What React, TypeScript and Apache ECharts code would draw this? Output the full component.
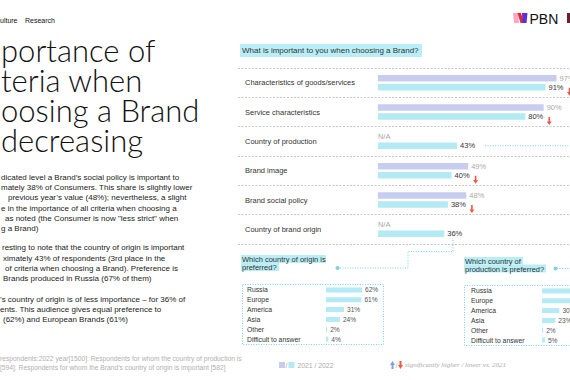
import React, { useEffect, useRef } from 'react';
import * as echarts from 'echarts';

// ---------- data ----------
const criteria = [
  'Characteristics of goods/services',
  'Service characteristics',
  'Country of production',
  'Brand image',
  'Brand social policy',
  'Country of brand origin',
];
const values2021: (number | null)[] = [97, 90, null, 49, 48, null];
const values2022 = [91, 80, 43, 40, 38, 36];
const lowerVs2021 = [true, true, false, true, true, false];

const answerCats = ['Russia', 'Europe', 'America', 'Asia', 'Other', 'Difficult to answer'];
const originValues = [62, 61, 31, 24, 2, 4];
const productionValues = [67, 58, 30, 23, 2, 5];

const titleLines = ['portance of', 'teria when', 'oosing a Brand', 'decreasing'];
const bodyLines = [
  'dicated level a Brand\u2019s social policy is important to',
  'mately 38% of Consumers. This share is slightly lower',
  'previous year\u2019s value (48%); nevertheless, a slight',
  'e in the importance of all criteria when choosing a',
  'as noted (the Consumer is now "less strict" when',
  'g a Brand)',
  'resting to note that the country of origin is important',
  'ximately 43% of respondents (3rd place in the',
  'of criteria when choosing a Brand). Preference is',
  'Brands produced in Russia (67% of them)',
  '\u2019s country of origin is of less importance \u2013 for 36% of',
  'ents. This audience gives equal preference to',
  '(62%) and European Brands (61%)',
];
const footLines = [
  'respondents:2022 year[1500]: Respondents for whom the country of production is',
  '[594]; Respondents for whom the Brand\u2019s country of origin is important [582]',
];

// ---------- layout (positions only) ----------
const bodyPos: [number, number][] = [
  [1, 177], [1, 187.5], [8, 197.8], [1, 208], [5, 218.5], [1, 228],
  [2, 247.8], [3, 258], [5, 268], [3, 278],
  [0, 299], [0, 309], [3, 319],
];

const SANS = "'Liberation Sans', Arial, sans-serif";
const LAV = '#c8cdf0';
const CYAN = '#b3eaf4';
const DOT = '#7fd2df';
const RED = '#ee5a44';
const BLUE = '#7f9fe0';
const ARROW_DOWN = 'path://M2,0 L4,0 L4,5 L6,5 L3,9 L0,5 L2,5 Z';

export default function App() {
  const ref = useRef<HTMLDivElement>(null);

  useEffect(() => {
    if (!ref.current) return;
    const chart = echarts.init(ref.current, null, { renderer: 'svg', width: 570, height: 380 });

    const d2021 = values2021.map((v) =>
      v == null ? { value: 0, na: true, label: { distance: 0 } } : { value: v, na: false }
    );

    const arrows = values2022
      .map((v, i) => ({ v, i }))
      .filter((o) => lowerVs2021[o.i])
      .map((o) => ({
        coord: [o.v, o.i],
        symbol: ARROW_DOWN,
        symbolSize: [5, 8],
        symbolOffset: [24, 4.5],
        itemStyle: { color: RED },
        label: { show: false },
      }));

    const graphic: any[] = [];
    // header
    graphic.push({ type: 'text', x: 0, y: 20, style: { text: 'ulture', fontSize: 7, fontFamily: SANS, fill: '#111', verticalAlign: 'middle' } });
    graphic.push({ type: 'text', x: 25, y: 20, style: { text: 'Research', fontSize: 7, fontFamily: SANS, fill: '#111', verticalAlign: 'middle' } });
    // title (one block, 4 lines)
    graphic.push({
      type: 'text', x: 1, y: 35.6,
      style: {
        text: titleLines.join('\n'), fontSize: 31, lineHeight: 29.7,
        fontFamily: "Lato, 'Liberation Sans', sans-serif",
        fontWeight: 300, fill: '#111', verticalAlign: 'top',
      },
    });
    bodyLines.forEach((t, i) =>
      graphic.push({
        type: 'text', x: bodyPos[i][0], y: bodyPos[i][1],
        style: { text: t, fontSize: 8, fontFamily: SANS, fill: '#222', verticalAlign: 'middle' },
      })
    );
    footLines.forEach((t, i) =>
      graphic.push({
        type: 'text', x: 0, y: 358 + i * 9,
        style: { text: t, fontSize: 6.7, fontFamily: SANS, fill: '#b0b0b0', verticalAlign: 'middle' },
      })
    );
    // question
    graphic.push({ type: 'rect', shape: { x: 240, y: 44, width: 182, height: 13 }, style: { fill: '#b9eef7' } });
    graphic.push({ type: 'text', x: 242, y: 50.5, style: { text: 'What is important to you when choosing a Brand?', fontSize: 8, fontFamily: SANS, fill: '#333', verticalAlign: 'middle' } });
    // connector from "Country of production"
    graphic.push({ type: 'line', shape: { x1: 485, y1: 145.7, x2: 575, y2: 145.7 }, style: { stroke: DOT, lineWidth: 1, lineDash: [1, 1.5] } });
    // connector from "Country of brand origin"
    graphic.push({ type: 'polyline', shape: { points: [[453, 240], [453, 251.5], [408, 251.5], [408, 268], [339, 268]] }, style: { stroke: DOT, lineWidth: 1, lineDash: [1, 1.5], fill: 'none' } });
    graphic.push({ type: 'circle', shape: { cx: 337.5, cy: 268, r: 2 }, style: { fill: DOT } });
    graphic.push({ type: 'line', shape: { x1: 557, y1: 268.5, x2: 575, y2: 268.5 }, style: { stroke: DOT, lineWidth: 1, lineDash: [1, 1.5] } });
    graphic.push({ type: 'circle', shape: { cx: 555.5, cy: 268.5, r: 2 }, style: { fill: DOT } });
    // sub questions
    graphic.push({ type: 'rect', shape: { x: 241, y: 255, width: 85, height: 8 }, style: { fill: '#b9eef7' } });
    graphic.push({ type: 'rect', shape: { x: 241, y: 263, width: 38, height: 8 }, style: { fill: '#b9eef7' } });
    graphic.push({ type: 'text', x: 242, y: 255.3, style: { text: 'Which country of origin is\npreferred?', fontSize: 7.5, lineHeight: 8, fontFamily: SANS, fill: '#333', verticalAlign: 'top' } });
    graphic.push({ type: 'rect', shape: { x: 464, y: 257, width: 59, height: 7.5 }, style: { fill: '#b9eef7' } });
    graphic.push({ type: 'rect', shape: { x: 464, y: 264.5, width: 82, height: 8 }, style: { fill: '#b9eef7' } });
    graphic.push({ type: 'text', x: 465, y: 257, style: { text: 'Which country of\nproduction is preferred?', fontSize: 7.5, lineHeight: 8, fontFamily: SANS, fill: '#333', verticalAlign: 'top' } });
    // boxes
    graphic.push({ type: 'rect', shape: { x: 242.5, y: 284.5, width: 141, height: 60 }, style: { fill: 'none', stroke: DOT, lineWidth: 1, lineDash: [1, 1.5] } });
    graphic.push({ type: 'rect', shape: { x: 464.5, y: 285.5, width: 120, height: 60 }, style: { fill: 'none', stroke: DOT, lineWidth: 1, lineDash: [1, 1.5] } });
    // legend
    graphic.push({ type: 'rect', shape: { x: 279, y: 362, width: 6, height: 6 }, style: { fill: LAV } });
    graphic.push({ type: 'text', x: 285.5, y: 365, style: { text: '/', fontSize: 7, fontFamily: SANS, fill: '#aaa', verticalAlign: 'middle' } });
    graphic.push({ type: 'rect', shape: { x: 288.5, y: 362, width: 6, height: 6 }, style: { fill: CYAN } });
    graphic.push({ type: 'text', x: 297.5, y: 365, style: { text: '2021 / 2022', fontSize: 6.8, fontFamily: SANS, fill: '#aaa', verticalAlign: 'middle' } });
    graphic.push({ type: 'polygon', shape: { points: [[392.5, 361], [395, 365], [393.5, 365], [393.5, 369], [391.5, 369], [391.5, 365], [390, 365]] }, style: { fill: BLUE } });
    graphic.push({ type: 'text', x: 395.5, y: 365, style: { text: '/', fontSize: 7, fontFamily: SANS, fill: '#aaa', verticalAlign: 'middle' } });
    graphic.push({ type: 'polygon', shape: { points: [[399.5, 361], [401.5, 361], [401.5, 365], [403, 365], [400.5, 369], [398, 365], [399.5, 365]] }, style: { fill: RED } });
    graphic.push({ type: 'text', x: 405, y: 365, style: { text: 'significantly higher / lower vs. 2021', fontSize: 7, fontStyle: 'italic', fontFamily: "'Liberation Serif', serif", fill: '#aaa', verticalAlign: 'middle' } });
    // logo
    graphic.push({ type: 'polygon', shape: { points: [[513, 13], [518, 13], [519, 23], [514, 23]] }, style: { fill: '#f6a9c1' } });
    graphic.push({ type: 'polygon', shape: { points: [[517.5, 13], [521, 13], [524, 23], [520.5, 23]] }, style: { fill: '#e3263c' } });
    graphic.push({ type: 'polygon', shape: { points: [[522, 13], [527.5, 13], [526.5, 23], [522.5, 23]] }, style: { fill: '#5a30d8' } });
    graphic.push({ type: 'text', x: 529.5, y: 18.5, style: { text: 'PBN', fontSize: 14, fontFamily: SANS, fill: '#111', verticalAlign: 'middle' } });
    graphic.push({ type: 'rect', shape: { x: 567, y: 13, width: 4, height: 10 }, style: { fill: '#6d1f2b' } });

    const subAxisLabel = { fontSize: 6.8, fontFamily: SANS, color: '#333', align: 'left' };
    const PROD_MAX = 48.3; // visible part of the cut-off right panel (0.58 px per percent)
    const subLabel = { show: true, position: 'right', distance: 3, fontSize: 6.6, fontFamily: SANS, color: '#555', formatter: '{c}%' };

    chart.setOption({
      animation: false,
      backgroundColor: '#fff',
      textStyle: { fontFamily: SANS },
      grid: [
        { left: 238, top: 68, width: 332, height: 176 },
        { left: 326, top: 285, width: 58, height: 59 },
        { left: 542, top: 286, width: 28, height: 59 },
      ],
      xAxis: [
        { gridIndex: 0, type: 'value', min: -76, max: 104.3, show: false },
        { gridIndex: 1, type: 'value', min: 0, max: 100, show: false },
        { gridIndex: 2, type: 'value', min: 0, max: PROD_MAX, show: false },
      ],
      yAxis: [
        {
          gridIndex: 0, type: 'category', data: criteria, inverse: true,
          axisLine: { show: false, onZero: false }, axisTick: { show: false },
          axisLabel: { margin: -7, align: 'left', fontSize: 7.5, fontFamily: SANS, color: '#333' },
          splitLine: { show: true, lineStyle: { color: '#b8b8b8', type: [2, 1.5], width: 0.8 } },
        },
        {
          gridIndex: 1, type: 'category', data: answerCats, inverse: true,
          axisLine: { show: false, onZero: false }, axisTick: { show: false },
          axisLabel: { ...subAxisLabel, margin: 79 },
        },
        {
          gridIndex: 2, type: 'category', data: answerCats, inverse: true,
          axisLine: { show: false, onZero: false }, axisTick: { show: false },
          axisLabel: { ...subAxisLabel, margin: 71 },
        },
      ],
      series: [
        {
          name: '2021', type: 'bar', xAxisIndex: 0, yAxisIndex: 0, data: d2021,
          barWidth: 6.5, barGap: '38%', itemStyle: { color: LAV },
          label: {
            show: true, position: 'right', distance: 3, fontSize: 7.5, fontFamily: SANS, color: '#a9a9a9',
            formatter: (p: any) => (p.data && p.data.na ? 'N/A' : p.value + '%'),
          },
        },
        {
          name: '2022', type: 'bar', xAxisIndex: 0, yAxisIndex: 0, data: values2022,
          barWidth: 6.5, barGap: '38%', itemStyle: { color: CYAN },
          label: { show: true, position: 'right', distance: 3, fontSize: 7.5, fontFamily: SANS, color: '#333', formatter: '{c}%' },
          markPoint: { data: arrows, label: { show: false } },
        },
        {
          name: 'origin', type: 'bar', xAxisIndex: 1, yAxisIndex: 1, data: originValues,
          barWidth: 5, itemStyle: { color: CYAN }, label: subLabel,
        },
        {
          name: 'production', type: 'bar', xAxisIndex: 2, yAxisIndex: 2, data: productionValues,
          barWidth: 5, clip: true, itemStyle: { color: CYAN },
          label: { ...subLabel, formatter: (p: any) => (p.value > PROD_MAX ? '' : p.value + '%') },
        },
      ],
      graphic,
    });

    return () => chart.dispose();
  }, []);

  return (
    <div
      ref={ref}
      style={{ position: 'fixed', left: 0, top: 0, width: 570, height: 380, overflow: 'hidden', background: '#fff' }}
    />
  );
}
